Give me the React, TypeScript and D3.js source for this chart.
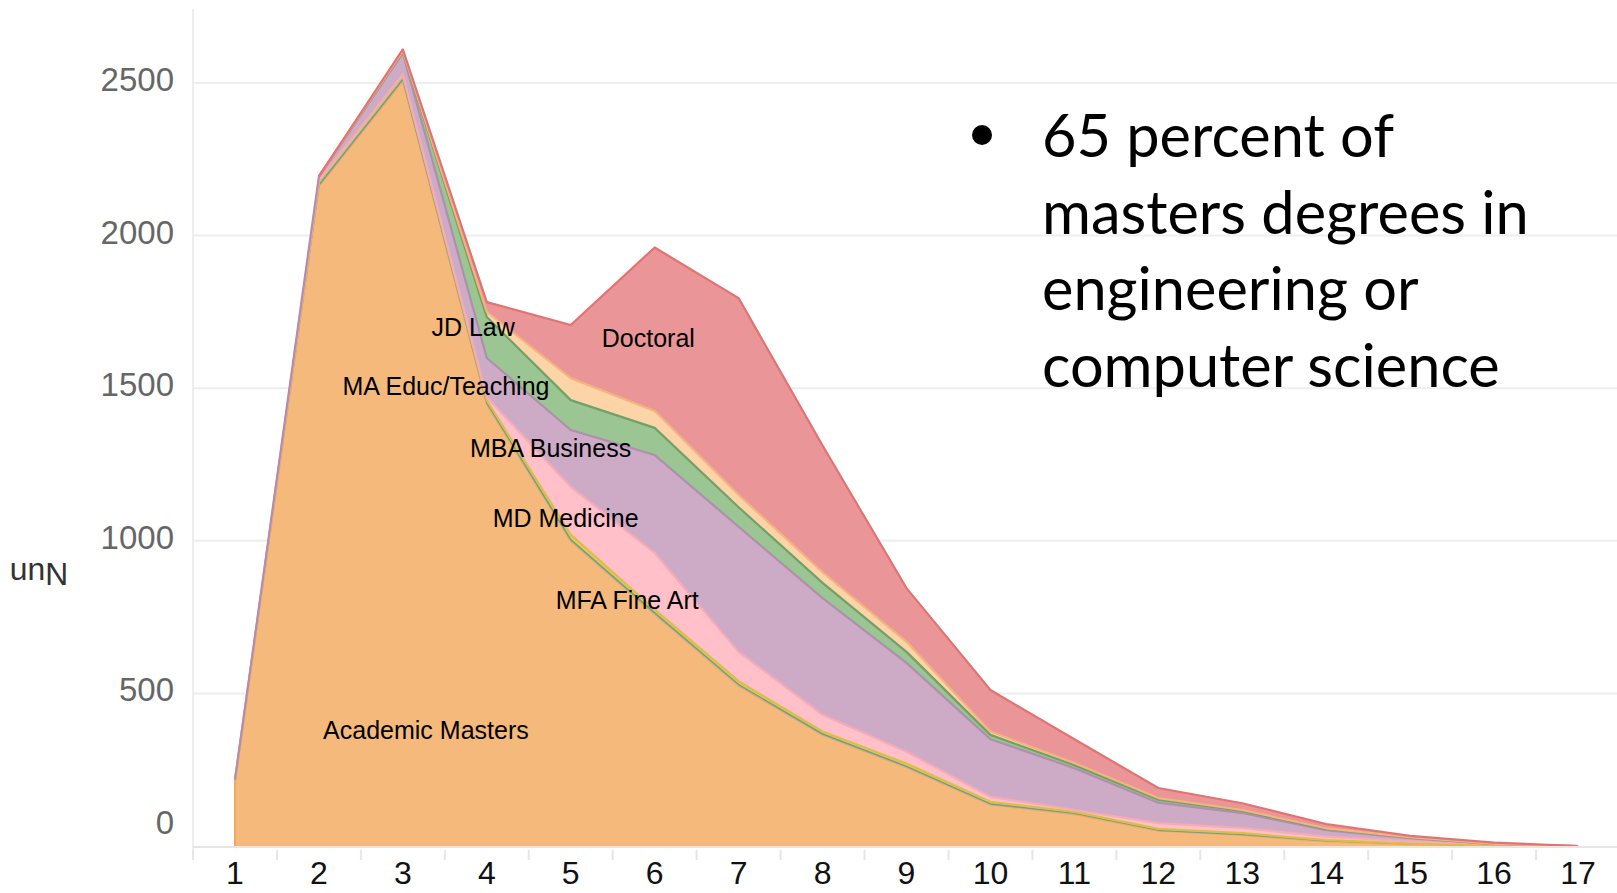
import { useEffect, useRef } from 'react';
import * as d3 from 'd3';

// x categories
const positions = [1, 2, 3, 4, 5, 6, 7, 8, 9, 10, 11, 12, 13, 14, 15, 16, 17];

// series, bottom of the stack first
const academicMasters = [212, 2163, 2508, 1448, 1000, 760, 525, 364, 258, 136, 104, 50, 36, 16, 6, 2, 0];
const other = [1, 3, 4, 4, 4, 4, 4, 3, 3, 2, 3, 2, 2, 1, 1, 0, 0];
const mfaFineArt = [1, 11, 12, 8, 16, 11, 11, 8, 9, 7, 5, 4, 4, 2, 1, 0, 0];
const mdMedicine = [1, 3, 4, 10, 157, 185, 96, 55, 39, 16, 6, 19, 17, 12, 7, 3, 0];
const mbaBusiness = [2, 14, 70, 129, 186, 321, 410, 382, 291, 189, 137, 67, 49, 21, 11, 1, 0];
const maEduc = [0, 0, 4, 134, 98, 89, 64, 50, 36, 14, 10, 10, 7, 4, 2, 0, 0];
const jdLaw = [0, 0, 2, 17, 72, 55, 40, 35, 33, 11, 7, 5, 3, 2, 1, 1, 0];
const doctoral = [0, 0, 6, 32, 174, 536, 645, 415, 176, 136, 78, 33, 22, 14, 4, 4, 0];

const seriesNames = ['Academic Masters', 'Other', 'MFA Fine Art', 'MD Medicine', 'MBA Business', 'MA Educ/Teaching', 'JD Law', 'Doctoral'];
const seriesValues = [academicMasters, other, mfaFineArt, mdMedicine, mbaBusiness, maEduc, jdLaw, doctoral];
const fills = ['#f5b97c', '#9fcfc8', '#e9ca55', '#ffc0c9', '#cdabc6', '#9bc593', '#fdd4a7', '#ea9598'];
const strokes = ['#f2a865', '#5fa3a0', '#dcbf3e', '#f8aab7', '#b08ead', '#6fa266', '#f3b47e', '#e37272'];

const yTicks = [0, 500, 1000, 1500, 2000, 2500];

// in-chart annotations, anchored in data space (left edge of text)
const labelNames = ['Academic Masters', 'JD Law', 'Doctoral', 'MA Educ/Teaching', 'MBA Business', 'MD Medicine', 'MFA Fine Art'];
const labelX = [2.05, 3.34, 5.37, 2.28, 3.8, 4.07, 4.82];
const labelY = [350, 1671, 1635, 1478, 1275, 1045, 777];

const bulletLines = ['65 percent of', 'masters degrees in', 'engineering or', 'computer science'];

const W = 1617;
const H = 893;

const StackedArea = () => {
    const svgRef = useRef<SVGSVGElement>(null);

    useEffect(() => {
        const svg = d3.select(svgRef.current);
        svg.selectAll('*').remove();

        const x = d3.scaleLinear().domain([0.5, 17.5]).range([193, 1620]);
        const y = d3.scaleLinear().domain([0, 2500]).range([846, 83]);

        // gridlines
        svg.append('g')
            .selectAll('line')
            .data(yTicks.filter(t => t > 0))
            .join('line')
            .attr('x1', x(0.5))
            .attr('x2', W)
            .attr('y1', d => y(d))
            .attr('y2', d => y(d))
            .attr('stroke', '#eeeeee')
            .attr('stroke-width', 2);

        svg.append('line')
            .attr('x1', x(0.5))
            .attr('x2', x(0.5))
            .attr('y1', 9)
            .attr('y2', 860)
            .attr('stroke', '#eeeeee')
            .attr('stroke-width', 2);

        // stack
        const rows = positions.map((p, i) => {
            const row: any = { pos: p };
            seriesNames.forEach((n, k) => (row[n] = seriesValues[k][i]));
            return row;
        });
        const stacked = d3.stack<any>().keys(seriesNames)(rows);

        const area = d3
            .area<any>()
            .x(d => x(d.data.pos))
            .y0(d => y(d[0]))
            .y1(d => y(d[1]));

        svg.append('g')
            .selectAll('path')
            .data(stacked)
            .join('path')
            .attr('d', area)
            .attr('fill', (_, i) => fills[i]);

        // outlines, skipping stretches where a layer is empty
        stacked.forEach((layer, k) => {
            const vals = seriesValues[k];
            const line = d3
                .line<any>()
                .defined((_, i) => vals[i] > 0 || (vals[i - 1] ?? 0) > 0 || (vals[i + 1] ?? 0) > 0)
                .x(d => x(d.data.pos))
                .y(d => y(d[1]));
            svg.append('path')
                .attr('d', line(layer as any))
                .attr('fill', 'none')
                .attr('stroke', strokes[k])
                .attr('stroke-width', k === 1 ? 1.5 : 2.2)
                .attr('stroke-linejoin', 'round');
        });

        // left edge of first column
        svg.append('line')
            .attr('x1', x(1))
            .attr('x2', x(1))
            .attr('y1', y(0))
            .attr('y2', y(academicMasters[0]))
            .attr('stroke', strokes[0])
            .attr('stroke-width', 2);

        // x axis
        svg.append('line')
            .attr('x1', x(0.5))
            .attr('x2', W)
            .attr('y1', y(0) + 1)
            .attr('y2', y(0) + 1)
            .attr('stroke', '#e6e6e6')
            .attr('stroke-width', 2);

        svg.append('g')
            .selectAll('line')
            .data(d3.range(0.5, 17.6, 1))
            .join('line')
            .attr('x1', d => x(d))
            .attr('x2', d => x(d))
            .attr('y1', 850)
            .attr('y2', 860)
            .attr('stroke', '#e6e6e6')
            .attr('stroke-width', 2);

        svg.append('g')
            .selectAll('text')
            .data(positions)
            .join('text')
            .attr('x', d => x(d))
            .attr('y', 884)
            .attr('text-anchor', 'middle')
            .style('font-family', 'Liberation Sans, Arial, sans-serif')
            .style('font-size', '32px')
            .attr('fill', '#111')
            .text(d => d);

        // y tick labels
        svg.append('g')
            .selectAll('text')
            .data(yTicks)
            .join('text')
            .attr('x', 174)
            .attr('y', d => (d === 0 ? 834 : y(d) + 8))
            .attr('text-anchor', 'end')
            .style('font-family', 'Liberation Sans, Arial, sans-serif')
            .style('font-size', '33px')
            .attr('fill', '#666')
            .text(d => d);

        // y axis title, upside down as in the source
        svg.append('text')
            .attr('transform', 'translate(39,571) rotate(180)')
            .attr('text-anchor', 'middle')
            .attr('dominant-baseline', 'middle')
            .style('font-family', 'Liberation Sans, Arial, sans-serif')
            .style('font-size', '32px')
            .attr('fill', '#333')
            .text('Nun');

        // annotations
        svg.append('g')
            .selectAll('text')
            .data(labelNames)
            .join('text')
            .attr('x', (_, i) => x(labelX[i]))
            .attr('y', (_, i) => y(labelY[i]))
            .style('font-family', 'Liberation Sans, Arial, sans-serif')
            .style('font-size', '25px')
            .attr('fill', '#000')
            .text(d => d);

        // bullet text
        svg.append('circle').attr('cx', 982).attr('cy', 135).attr('r', 10).attr('fill', '#000');
        svg.append('g')
            .selectAll('text')
            .data(bulletLines)
            .join('text')
            .attr('x', 1042)
            .attr('y', (_, i) => 157 + i * 76.5)
            .style('font-family', 'Lato, sans-serif')
            .style('font-size', '59.5px')
            .attr('fill', '#000')
            .text(d => d);
    }, []);

    return (
        <svg
            ref={svgRef}
            width={W}
            height={H}
            style={{ position: 'absolute', left: 0, top: 0, background: '#fff' }}
        ></svg>
    );
};

export default function App() {
    return <StackedArea />;
}
